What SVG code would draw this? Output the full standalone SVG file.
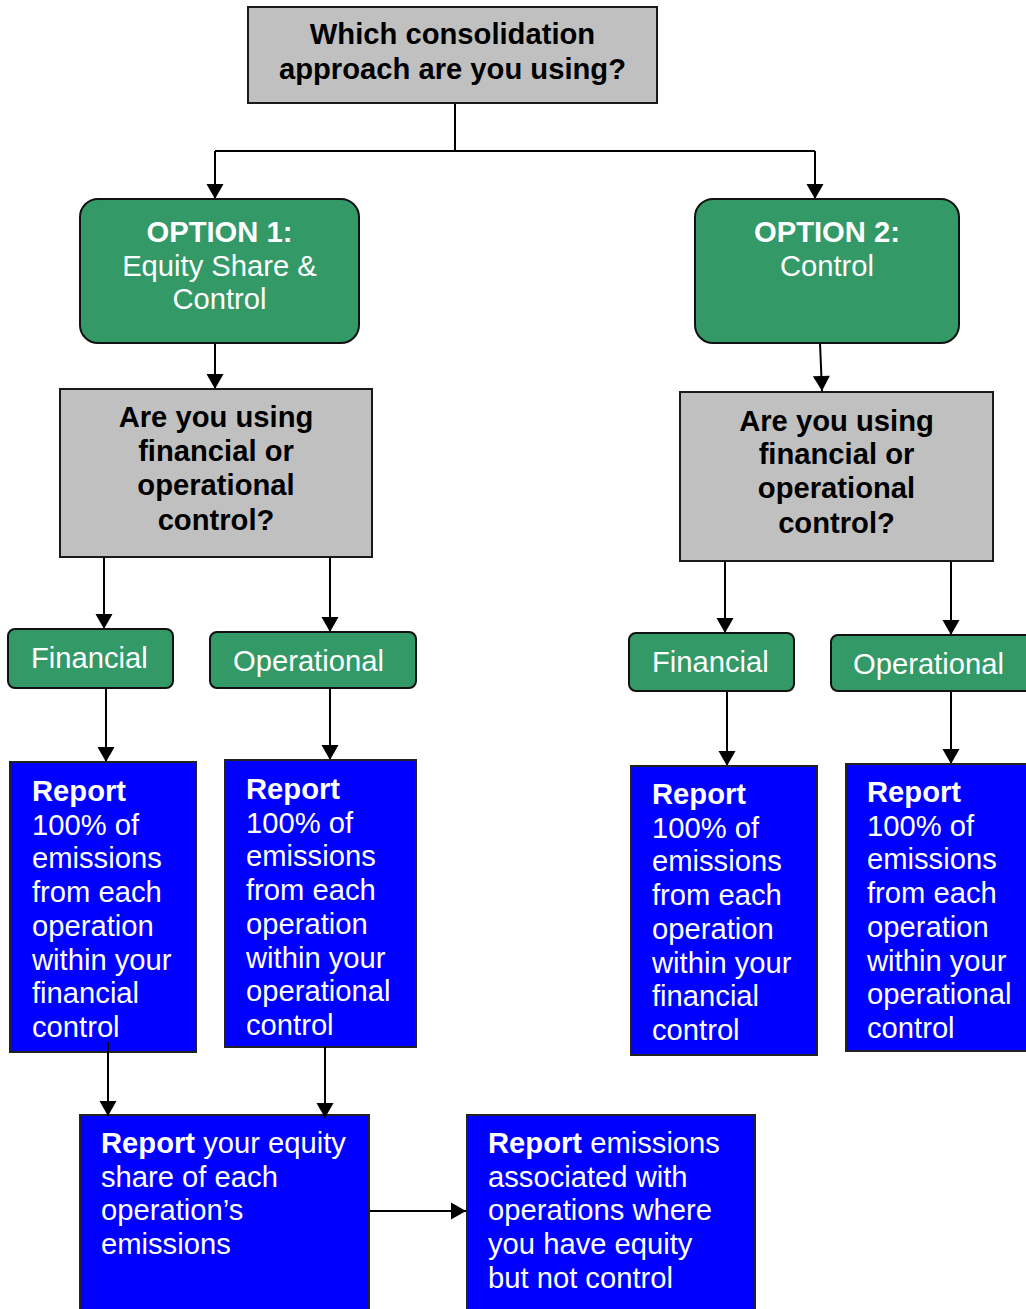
<svg xmlns="http://www.w3.org/2000/svg" width="1026" height="1309" viewBox="0 0 1026 1309">
  <defs>
    <marker id="arrow" markerUnits="userSpaceOnUse" markerWidth="18" markerHeight="18" refX="15" refY="9" orient="auto" overflow="visible">
      <path d="M0,0.5 L15,9 L0,17.5 z" fill="#000"/>
    </marker>
    <style>
      text { font-family: "Liberation Sans", Arial, sans-serif; font-size: 29.2px; }
      .q { fill: #c0c0c0; stroke: #1a1a1a; stroke-width: 2; }
      .opt { fill: #339966; stroke: #111; stroke-width: 2; }
      .rep { fill: #0000ff; stroke: #222; stroke-width: 2; }
      .dark { fill: #000; font-weight: bold; text-anchor: middle; }
      .light { fill: #fff; }
      .mid { text-anchor: middle; }
      .b { font-weight: bold; }
      .conn { stroke: #000; stroke-width: 2; fill: none; }
      .arr { marker-end: url(#arrow); }
    </style>
  </defs>
  <rect width="1026" height="1309" fill="#fff"/>

  <!-- connectors -->
  <g id="connectors">
    <path class="conn" d="M455,103 V151 M215,151 H815"/>
    <path class="conn arr" d="M215,151 V199"/>
    <path class="conn arr" d="M815,151 V199"/>
    <path class="conn arr" d="M215,343 V389"/>
    <path class="conn arr" d="M820,343 L822,391"/>
    <path class="conn arr" d="M104,557 V629"/>
    <path class="conn arr" d="M330,557 V632"/>
    <path class="conn arr" d="M725,561 V633"/>
    <path class="conn arr" d="M951,561 V635"/>
    <path class="conn arr" d="M106,688 V762"/>
    <path class="conn arr" d="M330,688 V760"/>
    <path class="conn arr" d="M727,691 V766"/>
    <path class="conn arr" d="M951,691 V764"/>
    <path class="conn arr" d="M369,1211 H466"/>
  </g>

  <!-- top question -->
  <g id="q-approach">
    <rect class="q" x="248" y="7" width="409" height="96"/>
    <text class="dark" x="452.5" y="44">Which consolidation</text>
    <text class="dark" x="452.5" y="79">approach are you using?</text>
  </g>

  <!-- option 1 -->
  <g id="option1">
    <rect class="opt" x="80" y="199" width="279" height="144" rx="18"/>
    <text class="light mid b" x="219.5" y="242">OPTION 1:</text>
    <text class="light mid" x="219.5" y="276">Equity Share &amp;</text>
    <text class="light mid" x="219.5" y="309">Control</text>
  </g>

  <!-- option 2 -->
  <g id="option2">
    <rect class="opt" x="695" y="199" width="264" height="144" rx="18"/>
    <text class="light mid b" x="827" y="242">OPTION 2:</text>
    <text class="light mid" x="827" y="276">Control</text>
  </g>

  <!-- control-type questions -->
  <g id="q-control-1">
    <rect class="q" x="60" y="389" width="312" height="168"/>
    <text class="dark" x="216" y="427">Are you using</text>
    <text class="dark" x="216" y="461">financial or</text>
    <text class="dark" x="216" y="495">operational</text>
    <text class="dark" x="216" y="530">control?</text>
  </g>
  <g id="q-control-2">
    <rect class="q" x="680" y="392" width="313" height="169"/>
    <text class="dark" x="836.5" y="431">Are you using</text>
    <text class="dark" x="836.5" y="464">financial or</text>
    <text class="dark" x="836.5" y="498">operational</text>
    <text class="dark" x="836.5" y="533">control?</text>
  </g>

  <!-- control-type choices -->
  <g id="financial-1">
    <rect class="opt" x="8" y="629" width="165" height="59" rx="7"/>
    <text class="light" x="31" y="668">Financial</text>
  </g>
  <g id="operational-1">
    <rect class="opt" x="210" y="632" width="206" height="56" rx="7"/>
    <text class="light" x="233" y="671">Operational</text>
  </g>
  <g id="financial-2">
    <rect class="opt" x="629" y="633" width="165" height="58" rx="7"/>
    <text class="light" x="652" y="672">Financial</text>
  </g>
  <g id="operational-2">
    <rect class="opt" x="831" y="635" width="206" height="56" rx="7"/>
    <text class="light" x="853" y="674">Operational</text>
  </g>

  <!-- reporting outcomes -->
  <g id="report-fin-1">
    <rect class="rep" x="10" y="762" width="186" height="290"/>
    <text class="light" x="32" y="801"><tspan class="b">Report</tspan><tspan x="32" dy="33.7">100% of</tspan><tspan x="32" dy="33.7">emissions</tspan><tspan x="32" dy="33.7">from each</tspan><tspan x="32" dy="33.7">operation</tspan><tspan x="32" dy="33.7">within your</tspan><tspan x="32" dy="33.7">financial</tspan><tspan x="32" dy="33.7">control</tspan></text>
  </g>
  <g id="report-op-1">
    <rect class="rep" x="225" y="760" width="191" height="287"/>
    <text class="light" x="246" y="799"><tspan class="b">Report</tspan><tspan x="246" dy="33.7">100% of</tspan><tspan x="246" dy="33.7">emissions</tspan><tspan x="246" dy="33.7">from each</tspan><tspan x="246" dy="33.7">operation</tspan><tspan x="246" dy="33.7">within your</tspan><tspan x="246" dy="33.7">operational</tspan><tspan x="246" dy="33.7">control</tspan></text>
  </g>
  <g id="report-fin-2">
    <rect class="rep" x="631" y="766" width="186" height="289"/>
    <text class="light" x="652" y="804"><tspan class="b">Report</tspan><tspan x="652" dy="33.7">100% of</tspan><tspan x="652" dy="33.7">emissions</tspan><tspan x="652" dy="33.7">from each</tspan><tspan x="652" dy="33.7">operation</tspan><tspan x="652" dy="33.7">within your</tspan><tspan x="652" dy="33.7">financial</tspan><tspan x="652" dy="33.7">control</tspan></text>
  </g>
  <g id="report-op-2">
    <rect class="rep" x="846" y="764" width="190" height="287"/>
    <text class="light" x="867" y="802"><tspan class="b">Report</tspan><tspan x="867" dy="33.7">100% of</tspan><tspan x="867" dy="33.7">emissions</tspan><tspan x="867" dy="33.7">from each</tspan><tspan x="867" dy="33.7">operation</tspan><tspan x="867" dy="33.7">within your</tspan><tspan x="867" dy="33.7">operational</tspan><tspan x="867" dy="33.7">control</tspan></text>
  </g>

  <!-- equity share outcomes -->
  <g id="report-equity">
    <rect class="rep" x="80" y="1115" width="289" height="210"/>
    <text class="light" x="101" y="1153"><tspan class="b">Report</tspan> your equity<tspan x="101" dy="33.7">share of each</tspan><tspan x="101" dy="33.7">operation’s</tspan><tspan x="101" dy="33.7">emissions</tspan></text>
  </g>
  <g id="report-equity-no-control">
    <rect class="rep" x="467" y="1115" width="288" height="210"/>
    <text class="light" x="488" y="1153"><tspan class="b">Report</tspan> emissions<tspan x="488" dy="33.7">associated with</tspan><tspan x="488" dy="33.7">operations where</tspan><tspan x="488" dy="33.7">you have equity</tspan><tspan x="488" dy="33.7">but not control</tspan></text>
  </g>

  <!-- links from control outcomes down to equity box, drawn over the boxes -->
  <g id="connectors-lower">
    <path class="conn arr" d="M108,1042 V1116"/>
    <path class="conn arr" d="M325,1047 V1118"/>
  </g>
</svg>
